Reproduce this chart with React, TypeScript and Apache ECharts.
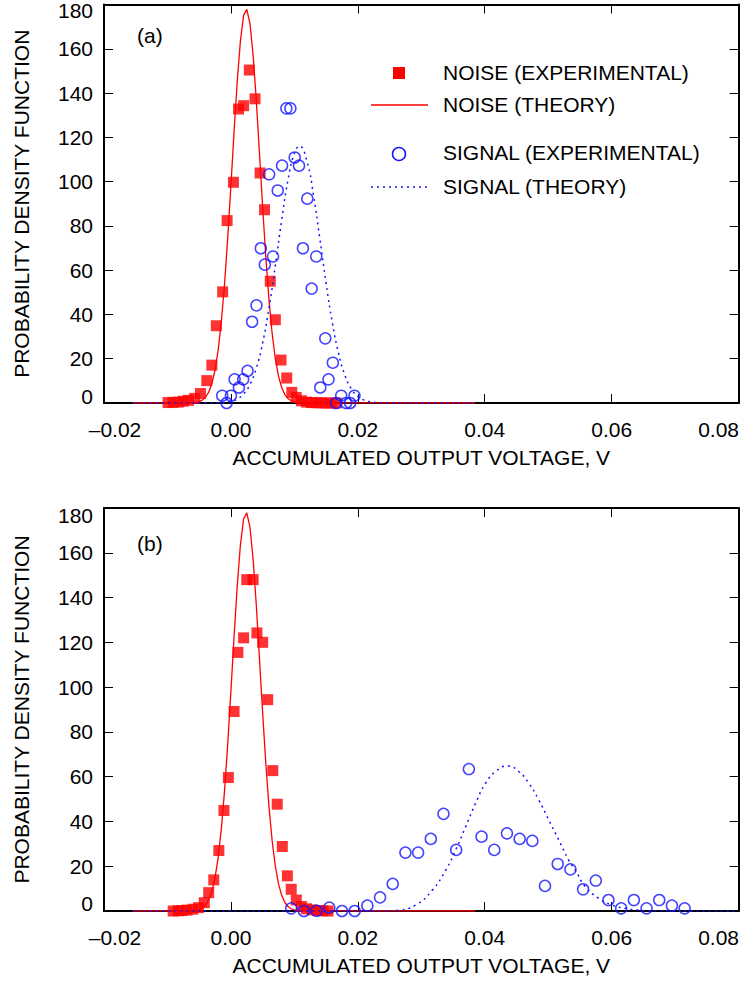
import React, { useEffect, useRef } from "react";
import * as echarts from "echarts";

// ---------- data ----------
const X_MIN = -0.02;
const X_MAX = 0.08;
const X_STEP = 0.02;
const Y_MIN = 0;
const Y_MAX = 180;
const Y_STEP = 20;

const X_TITLE = "ACCUMULATED OUTPUT VOLTAGE, V";
const Y_TITLE = "PROBABILITY DENSITY FUNCTION";
const LEGEND_LABELS = [
  "NOISE (EXPERIMENTAL)",
  "NOISE (THEORY)",
  "SIGNAL (EXPERIMENTAL)",
  "SIGNAL (THEORY)",
];
const PANEL_LABELS = ["(a)", "(b)"];

// Panel (a) – noise, experimental
const NOISE_A_X = [-0.0099, -0.0091, -0.0083, -0.0075, -0.0067, -0.0057, -0.0048, -0.0038, -0.003, -0.0023, -0.0013, -0.0006, 0.0004, 0.0012, 0.002, 0.0029, 0.0038, 0.0046, 0.0053, 0.0062, 0.007, 0.0079, 0.0088, 0.0096, 0.0103, 0.0111, 0.0119, 0.0127, 0.0135, 0.0142, 0.015, 0.0158, 0.0166];
const NOISE_A_Y = [0.2, 0.3, 0.4, 0.8, 1.2, 2.1, 4.3, 10.1, 17.1, 34.9, 50.2, 82.4, 99.7, 132.8, 134.3, 150.4, 137.4, 103.9, 87.3, 55.0, 37.6, 19.4, 11.3, 4.8, 2.5, 1.0, 0.4, 0.2, 0.1, 0.1, 0, 0, 0];

// Panel (a) – signal, experimental
const SIGNAL_A_X = [-0.00137, -0.00068, 0.0, 0.00058, 0.00126, 0.00193, 0.00262, 0.00334, 0.00403, 0.00471, 0.00534, 0.00602, 0.00664, 0.00738, 0.00806, 0.00874, 0.00937, 0.01005, 0.01073, 0.01135, 0.01204, 0.01272, 0.01345, 0.01408, 0.01487, 0.01538, 0.01606, 0.01659, 0.01738, 0.01816, 0.01879, 0.01947];
const SIGNAL_A_Y = [3.3, 0, 3.3, 10.7, 7.0, 10.7, 14.5, 36.7, 44.1, 69.9, 62.5, 103.3, 66.2, 96.0, 107.2, 133.1, 133.1, 110.9, 107.2, 69.9, 92.3, 51.7, 66.2, 7.0, 29.2, 10.7, 18.2, 0, 3.3, 0, 0, 3.3];

// Noise theory curve (both panels)
const NOISE_THEORY_X = [-0.0155, -0.006, -0.0055, -0.005, -0.0045, -0.004, -0.0035, -0.003, -0.0025, -0.002, -0.0015, -0.001, -0.0005, 0, 0.0005, 0.001, 0.0015, 0.002, 0.0025, 0.003, 0.0035, 0.004, 0.0045, 0.005, 0.0055, 0.006, 0.0065, 0.007, 0.0075, 0.008, 0.0085, 0.009, 0.0095, 0.01, 0.0105, 0.011, 0.0385];
const NOISE_THEORY_Y = [0, 0.1, 0.3, 0.6, 1.3, 2.6, 4.9, 8.8, 14.9, 24.1, 37.0, 53.9, 74.7, 98.2, 122.6, 145.4, 163.7, 175.1, 177.8, 171.5, 157.1, 136.7, 112.8, 88.5, 65.9, 46.6, 31.3, 20.0, 12.1, 7.0, 3.8, 2.0, 1.0, 0.5, 0.2, 0.1, 0];

// Panel (a) – signal theory curve
const SIGNAL_THEORY_A_X = [-0.0155, -0.002, 0, 0.001, 0.002, 0.003, 0.004, 0.005, 0.006, 0.007, 0.008, 0.009, 0.01, 0.0108, 0.012, 0.013, 0.014, 0.015, 0.016, 0.017, 0.018, 0.019, 0.02, 0.021, 0.022, 0.023, 0.025, 0.0385];
const SIGNAL_THEORY_A_Y = [0, 0.1, 0.7, 1.8, 4.1, 8.4, 15.7, 27.1, 42.8, 62.1, 82.6, 100.8, 112.8, 116, 109.0, 94.1, 74.5, 54.1, 36.0, 22.0, 12.3, 6.3, 3.0, 1.3, 0.5, 0.2, 0, 0];

// Panel (b) – noise, experimental
const NOISE_B_X = [-0.0091, -0.0083, -0.0077, -0.0069, -0.006, -0.0051, -0.0042, -0.0035, -0.0027, -0.0019, -0.0011, -0.0004, 0.0005, 0.0011, 0.002, 0.0025, 0.0035, 0.0041, 0.005, 0.0058, 0.0066, 0.0073, 0.0081, 0.0089, 0.0095, 0.0103, 0.0111, 0.0119, 0.0128, 0.0137, 0.0145, 0.0153];
const NOISE_B_Y = [0, 0.1, 0.2, 0.4, 0.8, 1.5, 3.7, 8.2, 13.9, 27.0, 44.9, 59.6, 89.1, 115.5, 122.0, 148.0, 148.0, 124.2, 120.0, 94.4, 62.7, 47.7, 28.8, 15.7, 9.7, 4.9, 2.0, 1.0, 0.5, 0.2, 0.1, 0];

// Panel (b) – signal, experimental
const SIGNAL_B_X = [0.0095, 0.0115, 0.0135, 0.0155, 0.0175, 0.0195, 0.0215, 0.0235, 0.0255, 0.0275, 0.0295, 0.0315, 0.0335, 0.0355, 0.0375, 0.0395, 0.0415, 0.0435, 0.0455, 0.0475, 0.0495, 0.0515, 0.0535, 0.0555, 0.0575, 0.0595, 0.0615, 0.0635, 0.0655, 0.0675, 0.0695, 0.0715];
const SIGNAL_B_Y = [1.2, 0, 0.1, 1.5, 0, 0, 2.4, 6.1, 12.1, 26.1, 26.1, 32.2, 43.4, 27.3, 63.4, 33.2, 27.3, 34.7, 32.2, 31.3, 11.2, 21.0, 18.6, 9.7, 13.6, 4.9, 1.2, 4.9, 1.2, 4.9, 2.4, 1.2];

// Panel (b) – signal theory curve
const SIGNAL_THEORY_B_X = [-0.0155, 0.0245, 0.02653, 0.02915, 0.03176, 0.03386, 0.03543, 0.037, 0.03857, 0.04014, 0.04171, 0.04364, 0.04537, 0.04694, 0.04851, 0.05008, 0.05165, 0.05322, 0.05427, 0.05584, 0.05793, 0.06002, 0.06212, 0.06421, 0.0665, 0.08];
const SIGNAL_THEORY_B_Y = [0, 0, 0.4, 2.7, 9.4, 18.3, 27.3, 37.7, 48.2, 57.1, 62.3, 64.8, 62.3, 57.1, 49.6, 40.7, 31.8, 22.8, 18.3, 10.9, 5.7, 2.7, 1.2, 0.4, 0, 0];

// ---------- styling ----------
const FONT = "'Liberation Sans', Arial, Helvetica, sans-serif";
const RED = "#ff0000";
const BLUE = "#1414ff";
const BLACK = "#000000";
const FS = 21;

const zip = (xs: number[], ys: number[]) => xs.map((x, i) => [x, ys[i]]);

const txt = { fontSize: FS, fontFamily: FONT, color: BLACK };

function fmtX(v: number) {
  const s = Math.abs(v).toFixed(2);
  const t = v < -1e-9 ? "\u2013" + s : s;
  if (Math.abs(v - X_MIN) < 1e-9) return `{lo|${t}}`;
  if (Math.abs(v - X_MAX) < 1e-9) return `{hi|${t}}`;
  return t;
}
function fmtY(v: number) {
  if (Math.abs(v - Y_MIN) < 1e-9) return `{lo|${v}}`;
  if (Math.abs(v - Y_MAX) < 1e-9) return `{hi|${v}}`;
  return String(v);
}

const frameLine = { show: true, onZero: false, lineStyle: { color: BLACK, width: 2 } };
const tick = { show: true, inside: true, length: 9, lineStyle: { color: BLACK, width: 1 } };

function xAxes(gridIndex: number) {
  return [
    {
      type: "value", gridIndex, position: "bottom",
      min: X_MIN, max: X_MAX, interval: X_STEP,
      name: X_TITLE, nameLocation: "middle", nameGap: 44,
      nameTextStyle: { ...txt },
      axisLine: frameLine, axisTick: tick, splitLine: { show: false },
      axisLabel: {
        show: true, margin: 16, ...txt, formatter: fmtX,
        showMinLabel: true, showMaxLabel: true,
        rich: {
          lo: { ...txt, padding: [0, 0, 0, 22] },
          hi: { ...txt, padding: [0, 40, 0, 0] },
        },
      },
    },
    {
      type: "value", gridIndex, position: "top",
      min: X_MIN, max: X_MAX, interval: X_STEP,
      axisLine: frameLine, axisTick: tick, splitLine: { show: false },
      axisLabel: { show: false },
    },
  ];
}

function yAxes(gridIndex: number, loPad: number, hiPad: number) {
  return [
    {
      type: "value", gridIndex, position: "left",
      min: Y_MIN, max: Y_MAX, interval: Y_STEP,
      name: Y_TITLE, nameLocation: "middle", nameGap: 72, nameRotate: 90,
      nameTextStyle: { ...txt },
      axisLine: frameLine, axisTick: tick, splitLine: { show: false },
      axisLabel: {
        show: true, margin: 11, ...txt, formatter: fmtY,
        showMinLabel: true, showMaxLabel: true,
        rich: {
          lo: { ...txt, padding: [0, 0, loPad, 0] },
          hi: { ...txt, padding: [hiPad, 0, 0, 0] },
        },
      },
    },
    {
      type: "value", gridIndex, position: "right",
      min: Y_MIN, max: Y_MAX, interval: Y_STEP,
      axisLine: frameLine, axisTick: tick, splitLine: { show: false },
      axisLabel: { show: false },
    },
  ];
}

function panelSeries(
  xi: number, yi: number,
  noise: number[][], signal: number[][], noiseTh: number[][], signalTh: number[][]
) {
  return [
    {
      type: "scatter", name: LEGEND_LABELS[0], xAxisIndex: xi, yAxisIndex: yi,
      data: noise, symbol: "rect", symbolSize: 11,
      itemStyle: { color: RED }, z: 2, silent: true,
    },
    {
      type: "line", name: LEGEND_LABELS[1], xAxisIndex: xi, yAxisIndex: yi,
      data: noiseTh, symbol: "none", showSymbol: false,
      lineStyle: { color: RED, width: 1.3 }, z: 3, silent: true,
    },
    {
      type: "line", name: LEGEND_LABELS[3], xAxisIndex: xi, yAxisIndex: yi,
      data: signalTh, symbol: "none", showSymbol: false, smooth: true,
      lineStyle: { color: BLUE, width: 1.5, type: [2, 4] }, z: 4, silent: true,
    },
    {
      type: "scatter", name: LEGEND_LABELS[2], xAxisIndex: xi, yAxisIndex: yi,
      data: signal, symbol: "circle", symbolSize: 11,
      itemStyle: { color: "rgba(0,0,0,0)", borderColor: BLUE, borderWidth: 1.5 },
      z: 5, silent: true,
    },
  ];
}

function legendGraphic() {
  const tx = 443;
  const rows = [72, 104, 152, 186];
  const label = (i: number) => ({
    type: "text", x: tx, y: rows[i],
    style: { text: LEGEND_LABELS[i], fontSize: FS, fontFamily: FONT, fill: BLACK, verticalAlign: "middle", align: "left" },
  });
  return [
    { type: "rect", shape: { x: 393, y: 67, width: 12, height: 12 }, style: { fill: RED } },
    label(0),
    { type: "line", shape: { x1: 371, y1: 105, x2: 428, y2: 105 }, style: { stroke: RED, lineWidth: 1.3 } },
    label(1),
    { type: "circle", shape: { cx: 399, cy: 154, r: 6.5 }, style: { fill: "none", stroke: BLUE, lineWidth: 1.5 } },
    label(2),
    { type: "line", shape: { x1: 371, y1: 187, x2: 428, y2: 187 }, style: { stroke: BLUE, lineWidth: 1.5, lineDash: [2, 4] } },
    label(3),
  ];
}

export default function App() {
  const ref = useRef<HTMLDivElement>(null);

  useEffect(() => {
    if (!ref.current) return;
    const chart = echarts.init(ref.current, undefined, { renderer: "svg" });
    const option: any = {
      animation: false,
      backgroundColor: "#ffffff",
      textStyle: { fontFamily: FONT },
      grid: [
        { left: 104, top: 1, width: 637, height: 402 },
        { left: 104, top: 508, width: 637, height: 403 },
      ],
      xAxis: [...xAxes(0), ...xAxes(1)],
      yAxis: [...yAxes(0, 14, 12), ...yAxes(1, 16, 14)],
      series: [
        ...panelSeries(
          0, 0,
          zip(NOISE_A_X, NOISE_A_Y), zip(SIGNAL_A_X, SIGNAL_A_Y),
          zip(NOISE_THEORY_X, NOISE_THEORY_Y), zip(SIGNAL_THEORY_A_X, SIGNAL_THEORY_A_Y)
        ),
        ...panelSeries(
          2, 2,
          zip(NOISE_B_X, NOISE_B_Y), zip(SIGNAL_B_X, SIGNAL_B_Y),
          zip(NOISE_THEORY_X, NOISE_THEORY_Y), zip(SIGNAL_THEORY_B_X, SIGNAL_THEORY_B_Y)
        ),
      ],
      graphic: [
        {
          type: "text", x: 137, y: 35,
          style: { text: PANEL_LABELS[0], fontSize: FS, fontFamily: FONT, fill: BLACK, verticalAlign: "middle" },
        },
        {
          type: "text", x: 137, y: 543,
          style: { text: PANEL_LABELS[1], fontSize: FS, fontFamily: FONT, fill: BLACK, verticalAlign: "middle" },
        },
        ...legendGraphic(),
      ],
    };
    chart.setOption(option);
    return () => chart.dispose();
  }, []);

  return (
    <div
      ref={ref}
      style={{ position: "fixed", left: 0, top: 0, width: 742, height: 991, background: "#fff" }}
    />
  );
}
